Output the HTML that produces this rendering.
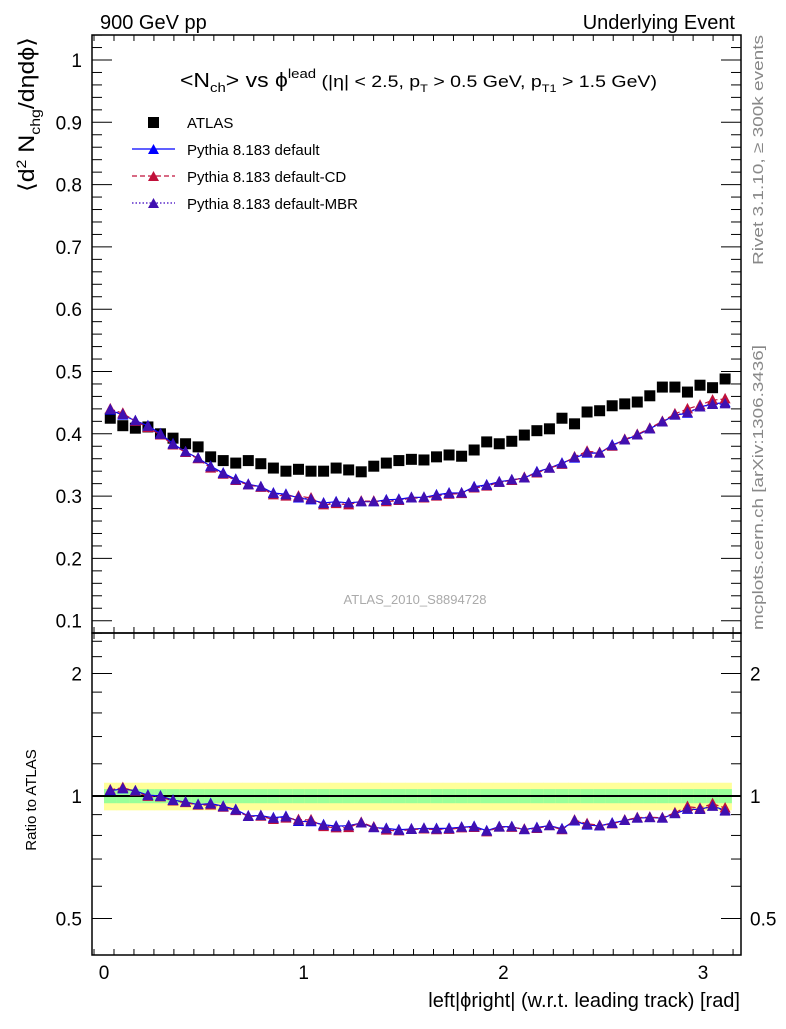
<!DOCTYPE html>
<html><head><meta charset="utf-8"><style>
body{margin:0;background:#fff;}
svg text{font-family:"Liberation Sans",sans-serif;}
</style></head><body>
<svg id="chart" width="786" height="1024" viewBox="0 0 786 1024" xmlns="http://www.w3.org/2000/svg">
<text x="100" y="29" font-size="20">900 GeV pp</text>
<text x="735" y="29" font-size="20" text-anchor="end">Underlying Event</text>
<text transform="translate(763,265) rotate(-90)" font-size="15" fill="#888" textLength="230" lengthAdjust="spacingAndGlyphs">Rivet 3.1.10, ≥ 300k events</text>
<text transform="translate(763,630) rotate(-90)" font-size="15" fill="#888" textLength="285" lengthAdjust="spacingAndGlyphs">mcplots.cern.ch [arXiv:1306.3436]</text>
<text x="180" y="87" font-size="20" textLength="477" lengthAdjust="spacingAndGlyphs">&lt;N<tspan font-size="13" dy="5">ch</tspan><tspan dy="-5">&gt; vs ϕ</tspan><tspan font-size="13" dy="-9">lead</tspan><tspan dy="9" font-size="17"> (|η| &lt; 2.5, p</tspan><tspan font-size="11" dy="5">T</tspan><tspan font-size="17" dy="-5"> &gt; 0.5 GeV, p</tspan><tspan font-size="11" dy="5">T1</tspan><tspan font-size="17" dy="-5"> &gt; 1.5 GeV)</tspan></text>
<text transform="translate(34,192) rotate(-90)" font-size="22" textLength="155" lengthAdjust="spacingAndGlyphs">⟨d<tspan font-size="14" dy="-8">2</tspan><tspan dy="8"> N</tspan><tspan font-size="14" dy="6">chg</tspan><tspan dy="-6">/dηdϕ⟩</tspan></text>
<text transform="translate(36,800) rotate(-90)" font-size="15" text-anchor="middle">Ratio to ATLAS</text>
<text x="740" y="1007" font-size="20" text-anchor="end">left|ϕright| (w.r.t. leading track) [rad]</text>
<text x="415" y="604" font-size="13" fill="#aaa" text-anchor="middle">ATLAS_2010_S8894728</text>
<g id="legend">
<g><rect x="148" y="117" width="11" height="11" fill="#000"/><text x="187" y="128" font-size="15">ATLAS</text></g>
<g><line x1="132" y1="149" x2="175" y2="149" stroke="#0000ff" stroke-width="1.2"/><path d="M148,154 L153.5,144 L159,154Z" fill="#0000ff"/><text x="187" y="155" font-size="15">Pythia 8.183 default</text></g>
<g><line x1="132" y1="176" x2="175" y2="176" stroke="#c0103a" stroke-width="1.2" stroke-dasharray="5,3"/><path d="M148,181 L153.5,171 L159,181Z" fill="#c0103a"/><text x="187" y="182" font-size="15">Pythia 8.183 default-CD</text></g>
<g><line x1="132" y1="203" x2="175" y2="203" stroke="#3a00c0" stroke-width="1.2" stroke-dasharray="1.5,2"/><path d="M148,208 L153.5,198 L159,208Z" fill="#4010b0"/><text x="187" y="209" font-size="15">Pythia 8.183 default-MBR</text></g>
</g>
<g id="plot"></g>
</svg>
<script>
const atlas=[0.425,0.413,0.409,0.411,0.400,0.393,0.384,0.379,0.363,0.357,0.353,0.357,0.352,0.345,0.340,0.343,0.340,0.340,0.345,0.342,0.339,0.348,0.353,0.357,0.359,
0.358,0.363,0.366,0.364,0.374,0.387,0.384,0.388,0.398,0.405,0.408,0.425,0.416,0.435,0.437,0.445,0.448,0.451,0.461,0.475,0.475,0.467,0.478,0.474,0.488];
const pyDefault=[0.438,0.430,0.421,0.413,0.400,0.384,0.371,0.361,0.348,0.337,0.327,0.319,0.315,0.305,0.303,0.297,0.294,0.289,0.291,0.289,0.291,0.291,0.294,0.295,0.298,
0.298,0.302,0.305,0.305,0.315,0.318,0.323,0.326,0.329,0.339,0.345,0.353,0.361,0.369,0.369,0.382,0.390,0.398,0.408,0.419,0.430,0.433,0.443,0.448,0.450];
const pyCD=[0.440,0.433,0.420,0.410,0.398,0.382,0.370,0.360,0.345,0.335,0.325,0.318,0.314,0.302,0.300,0.300,0.297,0.286,0.288,0.286,0.292,0.292,0.291,0.293,0.297,
0.297,0.300,0.303,0.304,0.313,0.316,0.322,0.325,0.330,0.337,0.345,0.351,0.363,0.372,0.370,0.380,0.391,0.399,0.409,0.420,0.432,0.440,0.446,0.454,0.456];
const pyMBR=[0.439,0.431,0.421,0.412,0.399,0.383,0.371,0.361,0.347,0.336,0.326,0.318,0.315,0.304,0.302,0.298,0.295,0.288,0.290,0.289,0.291,0.291,0.293,0.294,0.297,
0.298,0.301,0.304,0.305,0.314,0.317,0.322,0.326,0.329,0.338,0.345,0.352,0.362,0.370,0.369,0.381,0.390,0.398,0.408,0.419,0.430,0.434,0.443,0.447,0.448];
const statErr=0.04, totErr=0.078;
const xTicks=[0,1,2,3], yTicks=[0.1,0.2,0.3,0.4,0.5,0.6,0.7,0.8,0.9,1], rTicks=[0.5,1,2];
const NS='http://www.w3.org/2000/svg';
const g=document.getElementById('plot');
const L=92,R=741,T=35,M=633,B=955;
const xs=v=>104+v*199.7;
const ys=v=>60+(1-v)*623;
const yr=v=>796-Math.log2(v)*122.5;
function el(t,a,p){const e=document.createElementNS(NS,t);for(const k in a)e.setAttribute(k,a[k]);(p||g).appendChild(e);return e;}
const nb=atlas.length,w=Math.PI/nb;
const bands=el('g',{});


for(let i=0;i<nb;i++){const x0=xs(i*w),x1=xs((i+1)*w);
 el('rect',{x:x0,y:yr(1+totErr),width:x1-x0+0.5,height:yr(1-totErr)-yr(1+totErr),fill:'#ffff99'},bands);
 el('rect',{x:x0,y:yr(1+statErr),width:x1-x0+0.5,height:yr(1-statErr)-yr(1+statErr),fill:'#99ff99'},bands);}
el('line',{x1:L,x2:R,y1:yr(1),y2:yr(1),stroke:'#000','stroke-width':2});
el('rect',{x:L,y:T,width:R-L,height:M-T,fill:'none',stroke:'#000','stroke-width':1.5});
el('rect',{x:L,y:M,width:R-L,height:B-M,fill:'none',stroke:'#000','stroke-width':1.5});
for(let v=0.08;v<=1.045;v+=0.02){const y=ys(v),maj=Math.abs(v*10-Math.round(v*10))<0.01;const len=maj?20:10;
 el('line',{x1:L,x2:L+len,y1:y,y2:y,stroke:'#000'});el('line',{x1:R,x2:R-len,y1:y,y2:y,stroke:'#000'});}
yTicks.forEach(v=>{const t=el('text',{x:82,y:ys(v)+7,'font-size':19,'text-anchor':'end'});t.textContent=v==1?'1':v.toFixed(1);
 
 });
[0.5,0.6,0.7,0.8,0.9,1,1.2,1.4,1.6,1.8,2,2.2,2.4].forEach(v=>{const y=yr(v),maj=rTicks.includes(v),len=maj?20:10;
 el('line',{x1:L,x2:L+len,y1:y,y2:y,stroke:'#000'});el('line',{x1:R,x2:R-len,y1:y,y2:y,stroke:'#000'});});
rTicks.forEach(v=>{[[82,'end'],[750,'start']].forEach(([x,a])=>{const t=el('text',{x:x,y:yr(v)+7,'font-size':19,'text-anchor':a});t.textContent=String(v);
 
 });});
for(let k=-0.5;k<=31.9;k+=1){const v=k/10;if(v<-0.06)continue;const maj=Math.abs(v-Math.round(v))<0.01,mid=k%2==0;const len=maj?22:(mid?10:6);const x=xs(v);
 [T,M].forEach(y0=>el('line',{x1:x,x2:x,y1:y0,y2:y0+len,stroke:'#000'}));
 [M,B].forEach(y0=>el('line',{x1:x,x2:x,y1:y0,y2:y0-len,stroke:'#000'}));}
xTicks.forEach(v=>{const t=el('text',{x:xs(v),y:979,'font-size':19,'text-anchor':'middle'});t.textContent=String(v);
 
 });
function series(vals,col,dash,name,fy){const sg=el('g',{});
 
 
 const pts=vals.map((v,i)=>xs((i+0.5)*w)+','+fy(v,i)).join(' ');
 el('polyline',{points:pts,fill:'none',stroke:col,'stroke-width':1.2,'stroke-dasharray':dash},sg);
 vals.forEach((v,i)=>{const x=xs((i+0.5)*w),y=fy(v,i);el('path',{d:`M${x-5.5},${y+4.5} L${x},${y-6} L${x+5.5},${y+4.5}Z`,fill:col},sg);});}
const main=(v)=>ys(v), rat=()=>(v,i)=>yr(v/atlas[i]);
const ag=el('g',{});


atlas.forEach((v,i)=>el('rect',{x:xs((i+0.5)*w)-5.5,y:ys(v)-5.5,width:11,height:11,fill:'#000'},ag));
series(pyDefault,'#0000ff','none','pythia-default-main',main);
series(pyCD,'#c0103a','5,3','pythia-cd-main',main);
series(pyMBR,'#4010b0','1.5,2','pythia-mbr-main',main);
series(pyDefault,'#0000ff','none','pythia-default-ratio',rat());
series(pyCD,'#c0103a','5,3','pythia-cd-ratio',rat());
series(pyMBR,'#4010b0','1.5,2','pythia-mbr-ratio',rat());
</script>
</body></html>
